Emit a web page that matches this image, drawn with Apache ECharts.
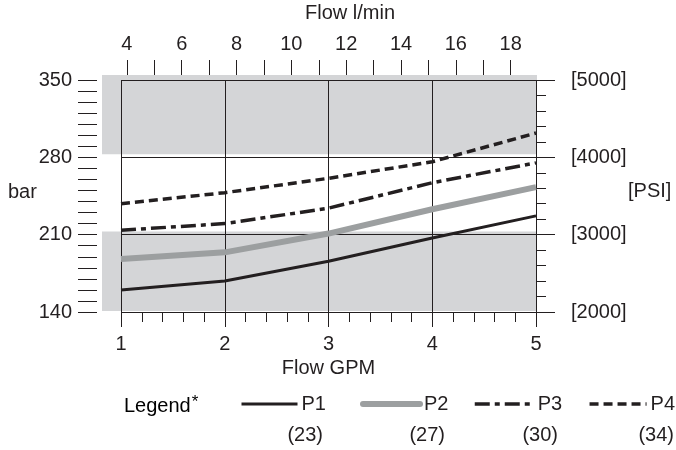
<!DOCTYPE html>
<html>
<head>
<meta charset="utf-8">
<script src="https://cdn.jsdelivr.net/npm/echarts@6/dist/echarts.min.js"></script>
<style>
html,body{margin:0;padding:0;background:#fff;}
#c{width:676px;height:450px;}
</style>
</head>
<body>
<div id="c"></div>
<script>
// ---- data ----
const gpm = [1, 2, 3, 4, 5];
const p1 = [160, 168, 186, 207, 227];
const p2 = [188, 194, 211, 233, 253];
const p3 = [214, 220, 234, 257, 275];
const p4 = [238, 248, 261, 276, 302];
const seriesNames = ['P1', 'P2', 'P3', 'P4'];
const legendNotes = ['(23)', '(27)', '(30)', '(34)'];
const barRange = [140, 350];
const psiRange = [2000, 5000];
const gpmRange = [1, 5];
const LPM_PER_GPM = 3.785;
const lpmTicks = [4,5,6,7,8,9,10,11,12,13,14,15,16,17,18,19];
const lpmLabels = [4,6,8,10,12,14,16,18];
const bandsBar = [[141, 213], [283, 355]];

const FONT = "'Liberation Sans', Arial, sans-serif";
const FS = 20;
const BLACK = '#231f20';
const GREYLINE = '#9c9fa0';
const BAND = '#d4d5d7';

const chart = echarts.init(document.getElementById('c'), null, {renderer: 'canvas'});

const values = [p1, p2, p3, p4];
const styles = [
  {color: BLACK, width: 3, type: 'solid'},
  {color: GREYLINE, width: 6, type: 'solid'},
  {color: BLACK, width: 3.5, type: [15, 5, 5, 5]},
  {color: BLACK, width: 3.5, type: [9, 5]}
];

const lineSeries = values.map((v, i) => ({
  name: seriesNames[i],
  type: 'line',
  xAxisIndex: 0,
  yAxisIndex: 0,
  symbol: 'none',
  z: 5,
  silent: true,
  lineStyle: {color: styles[i].color, width: styles[i].width, type: styles[i].type, cap: 'butt'},
  itemStyle: {color: styles[i].color},
  data: gpm.map((g, k) => [g, v[k]])
}));

const bandSeries = {
  type: 'line',
  xAxisIndex: 2,
  yAxisIndex: 2,
  data: [],
  z: 1,
  silent: true,
  markArea: {
    silent: true,
    itemStyle: {color: BAND},
    data: bandsBar.map(b => [{xAxis: 0, yAxis: b[0]}, {xAxis: 1, yAxis: b[1]}])
  }
};

const legendLayout = [
  {left: 240, w: 56},
  {left: 360, w: 57},
  {left: 473, w: 59},
  {right: 1, w: 57}
];
const legendRight = [323, 445, 558, 674];

const legends = seriesNames.map((n, i) => {
  const lg = {
    data: [n],
    top: 394,
    padding: 0,
    itemWidth: legendLayout[i].w,
    itemHeight: 14,
    selectedMode: false,
    itemStyle: {opacity: 0},
    lineStyle: {width: styles[i].width, cap: i === 1 ? 'round' : 'butt'},
    textStyle: {fontFamily: FONT, fontSize: FS, color: BLACK, padding: [0, 0, 0, -1]}
  };
  if (legendLayout[i].left !== undefined) lg.left = legendLayout[i].left;
  else lg.right = legendLayout[i].right;
  return lg;
});

const graphics = [
  {type: 'text', left: 305, top: 3, style: {text: 'Flow l/min', font: FS + 'px ' + FONT, fill: BLACK, textAlign: 'center'}},
  {type: 'text', left: 8, top: 182, style: {text: 'bar', font: FS + 'px ' + FONT, fill: BLACK}},
  {type: 'text', left: 628, top: 181, style: {text: '[PSI]', font: FS + 'px ' + FONT, fill: BLACK}},
  {type: 'text', left: 124, top: 394, style: {
    text: '{a|Legend}{b|*}',
    rich: {
      a: {fontFamily: FONT, fontSize: FS, color: BLACK},
      b: {fontFamily: FONT, fontSize: 17, color: BLACK, verticalAlign: 'top', padding: [0, 0, 8, 1]}
    }
  }}
].concat(legendNotes.map((t, i) => ({
  type: 'text', right: 676 - legendRight[i], top: 425,
  style: {text: t, font: FS + 'px ' + FONT, fill: BLACK, textAlign: 'right'}
})));

const option = {
  animation: false,
  backgroundColor: '#ffffff',
  textStyle: {fontFamily: FONT},
  grid: [
    {left: 121, right: 140, top: 80, bottom: 138},
    {left: 102, right: 139, top: 75, bottom: 138}
  ],
  legend: legends,
  xAxis: [
    {
      type: 'value', gridIndex: 0, position: 'bottom',
      min: gpmRange[0], max: gpmRange[1], interval: 1,
      name: 'Flow GPM', nameLocation: 'middle', nameGap: 46,
      nameTextStyle: {fontFamily: FONT, fontSize: FS, color: BLACK},
      axisLine: {show: false},
      axisTick: {show: true, length: 15, lineStyle: {color: BLACK, width: 1}},
      minorTick: {show: true, splitNumber: 5, length: 10, lineStyle: {color: BLACK, width: 1}},
      axisLabel: {fontFamily: FONT, fontSize: FS, color: BLACK, margin: 22},
      splitLine: {show: true, lineStyle: {color: BLACK, width: 1}},
      z: 3
    },
    {
      type: 'value', gridIndex: 0, position: 'top', offset: 5,
      min: gpmRange[0] * LPM_PER_GPM, max: gpmRange[1] * LPM_PER_GPM,
      axisLine: {show: false},
      axisTick: {show: true, length: 15, customValues: lpmTicks, lineStyle: {color: BLACK, width: 1}},
      axisLabel: {fontFamily: FONT, fontSize: FS, color: BLACK, margin: 21, customValues: lpmLabels},
      splitLine: {show: false},
      z: 3
    },
    {
      type: 'value', gridIndex: 1, min: 0, max: 1, show: false
    }
  ],
  yAxis: [
    {
      type: 'value', gridIndex: 0, position: 'left', offset: 24,
      min: barRange[0], max: barRange[1], interval: 70,
      axisLine: {show: false},
      axisTick: {show: true, length: 19, lineStyle: {color: BLACK, width: 1}},
      minorTick: {show: true, splitNumber: 7, length: 19, lineStyle: {color: BLACK, width: 1}},
      axisLabel: {fontFamily: FONT, fontSize: FS, color: BLACK, margin: 25, padding: [0, 0, 6, 0]},
      splitLine: {show: true, lineStyle: {color: BLACK, width: 1}},
      z: 3
    },
    {
      type: 'value', gridIndex: 0, position: 'right',
      min: psiRange[0], max: psiRange[1], interval: 1000,
      axisLine: {show: false},
      axisTick: {show: true, length: 19, lineStyle: {color: BLACK, width: 1}},
      minorTick: {show: true, splitNumber: 5, length: 10, lineStyle: {color: BLACK, width: 1}},
      axisLabel: {fontFamily: FONT, fontSize: FS, color: BLACK, margin: 35, padding: [4, 0, 0, 0],
        formatter: v => '[' + v + ']'},
      splitLine: {show: false},
      z: 3
    },
    {
      type: 'value', gridIndex: 1, min: barRange[0], max: 355, show: false
    }
  ],
  graphic: graphics,
  series: [bandSeries].concat(lineSeries)
};
chart.setOption(option);
</script>
</body>
</html>
